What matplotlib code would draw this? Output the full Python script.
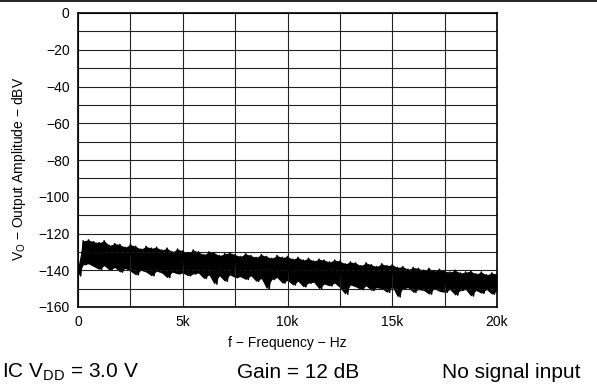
import matplotlib
matplotlib.use("Agg")
import matplotlib.pyplot as plt
from matplotlib.lines import Line2D
from matplotlib.ticker import MultipleLocator

plt.rcParams["font.family"] = ["Liberation Sans", "DejaVu Sans"]
plt.rcParams["mathtext.fontset"] = "custom"
plt.rcParams["mathtext.rm"] = "Liberation Sans"
plt.rcParams["mathtext.it"] = "Liberation Sans"

# noise floor, one sample every 250 Hz
freq_hz = list(range(0, 20001, 250))
upper_dbv = [-138, -124, -123.5, -124.5, -125, -124, -126.5, -125.5, -126, -127.5,
             -126, -127, -128.5, -127, -128, -127.5, -129, -128, -130, -128.5,
             -129.5, -130.5, -129, -130, -131.5, -130, -130.5, -132, -131, -130.5,
             -131.5, -132.5, -131, -132, -133, -131.5, -132.5, -133.5, -132, -133,
             -132.5, -134, -133, -134.5, -133.5, -135, -134, -134.5, -135.5, -134.5,
             -135, -136.5, -135.5, -136, -137.5, -136, -137, -138, -136.5, -137.5,
             -137, -138.5, -138, -139.5, -138.5, -139, -140, -139, -140.5, -139.5,
             -140.5, -141, -140, -141.5, -141, -140.5, -142, -141, -142.5, -141.5,
             -142]
lower_dbv = [-143, -137, -136.5, -138, -139.5, -137.5, -140, -138.5, -141, -139,
             -140.5, -142.5, -140, -141, -143, -140.5, -141.5, -144, -141, -142,
             -141.5, -143, -142, -141.5, -144.5, -142.5, -147.5, -143, -146, -142.5,
             -144, -143.5, -145, -143, -146, -144.5, -150, -145, -144, -147,
             -145.5, -148, -146, -149, -147, -146.5, -150, -147.5, -148.5, -147,
             -149.5, -153, -148, -149, -150.5, -148.5, -151, -149.5, -150, -152,
             -149, -154.5, -150, -149.5, -152, -150.5, -151, -153, -150, -151.5,
             -152, -150.5, -153.5, -151, -150.5, -154, -151, -152.5, -150.5, -153,
             -151]

x_ticks = [0, 5000, 10000, 15000, 20000]
x_tick_labels = ["0", "5k", "10k", "15k", "20k"]
y_ticks = [0, -20, -40, -60, -80, -100, -120, -140, -160]

fig = plt.figure(figsize=(5.97, 3.84), dpi=100)
ax = fig.add_axes([78 / 597, 1 - 307 / 384, 419 / 597, 294 / 384])

# zigzag between the two envelopes gives the noisy look
zx, zy = [], []
for f, hi, lo in zip(freq_hz, upper_dbv, lower_dbv):
    zx += [f, min(f + 125, 20000)]
    zy += [hi, lo]
ax.fill_between(freq_hz, lower_dbv, upper_dbv, color="black", lw=0)
ax.plot(zx, zy, color="black", lw=1.2)

ax.set_xlim(0, 20000)
ax.set_ylim(-160, 0)
ax.set_xticks(x_ticks)
ax.set_xticklabels(x_tick_labels)
ax.set_yticks(y_ticks)
ax.xaxis.set_minor_locator(MultipleLocator(2500))
ax.yaxis.set_minor_locator(MultipleLocator(10))
ax.grid(which="both", color="#222222", lw=0.8)
ax.tick_params(which="both", length=0, labelsize=10, pad=6)
for s in ax.spines.values():
    s.set_linewidth(1.2)

ax.set_xlabel("f − Frequency − Hz", fontsize=10)
ax.xaxis.set_label_coords(0.5, -0.099)
ax.set_ylabel(r"V$_{\mathrm{O}}$ − Output Amplitude − dBV", fontsize=10)
ax.yaxis.set_label_coords(-50 / 419, 0.47)

fig.add_artist(Line2D([0, 1], [0.998, 0.998], color="black", lw=1.2))
fig.text(0.003, 6 / 384, r"IC V$_{\mathrm{DD}}$ = 3.0 V", fontsize=15, ha="left", va="baseline")
fig.text(237 / 597, 6 / 384, "Gain = 12 dB", fontsize=15, ha="left", va="baseline")
fig.text(442 / 597, 6 / 384, "No signal input", fontsize=15, ha="left", va="baseline")

fig.savefig("out.png", dpi=100)
